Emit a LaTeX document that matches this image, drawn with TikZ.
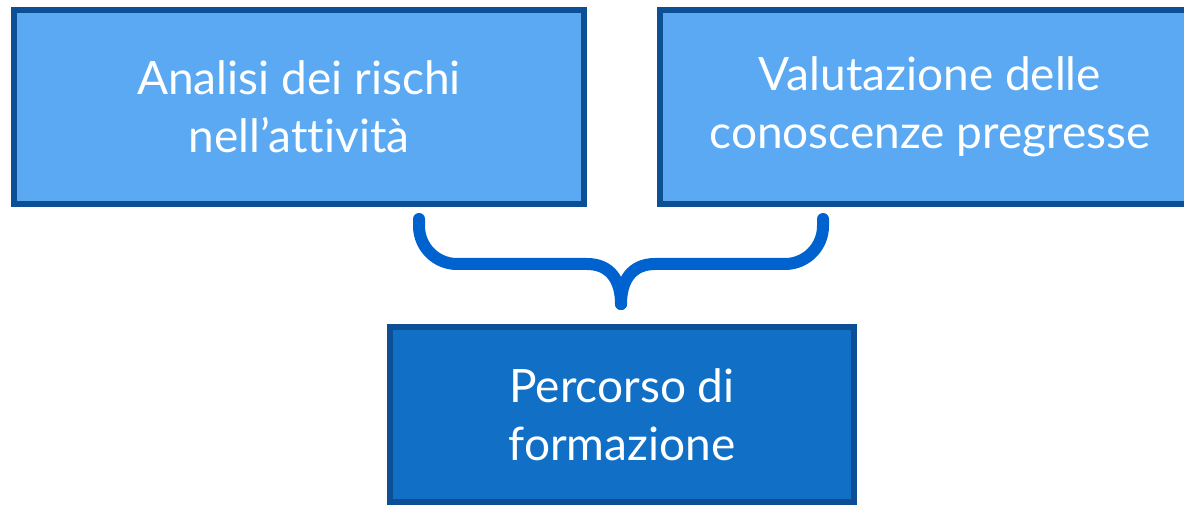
\documentclass[tikz,border=0pt]{standalone}
\usepackage{fontspec}
\setmainfont{Lato}[Ligatures=NoCommon]
\usepackage{tikz}

\definecolor{boxedge}{RGB}{12,79,149}
\definecolor{lightfill}{RGB}{90,169,242}
\definecolor{darkfill}{RGB}{17,111,198}
\definecolor{bracecol}{RGB}{0,98,206}

\begin{document}
\begin{tikzpicture}[x=0.75pt,y=0.75pt,yscale=-1,xscale=1,
    topbox/.style={draw=boxedge,line width=4.5pt,fill=lightfill,text=white,align=center,
        font=\fontsize{34.5}{43.5}\selectfont,inner sep=0pt},
    goalbox/.style={topbox,fill=darkfill},
    bracket/.style={draw=bracecol,line width=9pt,line cap=round}]
        \useasboundingbox (0,0) rectangle (1184,505);
        % the two inputs
        \node [topbox,minimum width=427.5pt,minimum height=145.5pt] (rischi) at (299,107) {Analisi dei rischi\\nell’attività};
        \node [topbox,minimum width=405pt,minimum height=145.5pt] (conoscenze) at (930,107) {Valutazione delle\\conoscenze pregresse};
        % the result
        \node [goalbox,minimum width=348pt,minimum height=131.25pt] (percorso) at (622,414.5) {Percorso di\\formazione};
        % the brace that joins them
        \coordinate (bl) at (419,219);
        \coordinate (br) at (823,219);
        \coordinate (tip) at (621,304);
        \draw [bracket] (bl) -- (419,226) .. controls (419,247) and (436,264) .. (457,264) -- (587,264) .. controls (610,264) and (621,280) .. (tip);
        \draw [bracket] (br) -- (823,226) .. controls (823,247) and (806,264) .. (785,264) -- (655,264) .. controls (632,264) and (621,280) .. (tip);
\end{tikzpicture}
\end{document}
